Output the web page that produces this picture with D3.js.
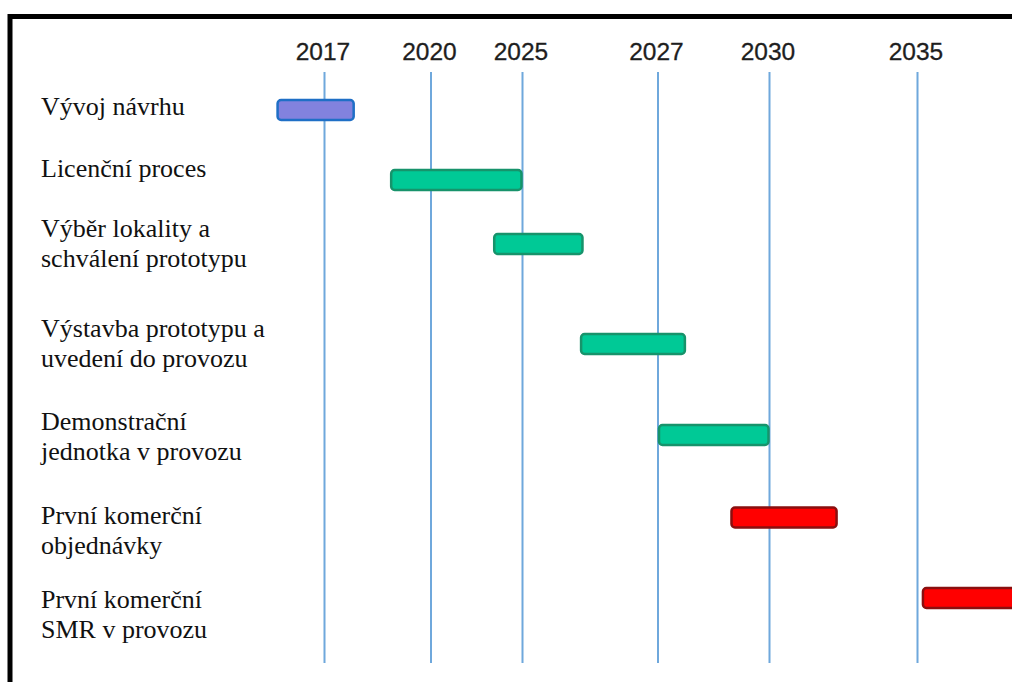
<!DOCTYPE html>
<html>
<head>
<meta charset="utf-8">
<script src="https://cdn.jsdelivr.net/npm/d3@7"></script>
<style>
  html, body { margin: 0; padding: 0; background: #fff; }
  svg { display: block; }
</style>
</head>
<body>
<svg id="chart" width="1012" height="682"></svg>
<script>
// tick years along the top (uneven spacing, as in the original)
const tickYears = [2017, 2020, 2025, 2027, 2030, 2035];

// activity names, one entry per line of the label
const tasks = ['design', 'licence', 'site', 'build', 'demo', 'orders', 'smr'];
const taskLabels = [
    ['Vývoj návrhu'],
    ['Licenční proces'],
    ['Výběr lokality a', 'schválení prototypu'],
    ['Výstavba prototypu a', 'uvedení do provozu'],
    ['Demonstrační', 'jednotka v provozu'],
    ['První komerční', 'objednávky'],
    ['První komerční', 'SMR v provozu']
];

// start / end of each bar, in years
const taskStart = [2015.65, 2018.85, 2023.4, 2025.85, 2027.0, 2028.95, 2035.15];
const taskEnd   = [2017.85, 2025.0, 2025.9, 2027.75, 2030.0, 2032.3, 2038.6];
const taskPhase = ['blue', 'green', 'green', 'green', 'green', 'red', 'red'];

const phaseStyle = {
    blue  : { fill : '#8282de', stroke : '#1f6fc6' },
    green : { fill : '#00c996', stroke : '#17936b' },
    red   : { fill : '#ff0000', stroke : '#8a0f0f' }
};

const vis = {

    svg : d3.select('#chart'),

    scales : {

        // piecewise linear: the source chart spaced its years unevenly
        x : d3.scaleLinear()
              .domain(tickYears)
              .range([324.5, 431, 522.5, 658, 769.5, 917.5]),

        barY : d3.scaleOrdinal()
              .domain(tasks)
              .range([110, 180, 244, 344, 435, 517.5, 598]),

        labelY : d3.scaleOrdinal()
              .domain(tasks)
              .range([107, 169, 244, 344, 437, 531, 615])

    },

    frame : {

        draw : function() {

            vis.svg.append('rect')
              .attr('x', 10)
              .attr('y', 16.5)
              .attr('width', 1100)
              .attr('height', 800)
              .attr('fill', 'none')
              .attr('stroke', '#000')
              .attr('stroke-width', 5);

        }

    },

    grid : {

        top : 72,
        bottom : 663,

        draw : function() {

            const x = vis.scales.x;

            vis.svg.append('g')
              .selectAll('line')
              .data(tickYears)
              .join('line')
              .attr('x1', d => x(d))
              .attr('x2', d => x(d))
              .attr('y1', this.top)
              .attr('y2', this.bottom)
              .attr('stroke', '#6fa8dc')
              .attr('stroke-width', 2);

            vis.svg.append('g')
              .selectAll('text')
              .data(tickYears)
              .join('text')
              .attr('x', d => x(d) - 1.5)
              .attr('y', 60)
              .attr('text-anchor', 'middle')
              .attr('font-family', 'Liberation Sans, Arial, sans-serif')
              .attr('font-size', 24.5)
              .attr('fill', '#1e1e1e')
              .attr('stroke', '#1e1e1e')
              .attr('stroke-width', 0.3)
              .text(d => d);

        }

    },

    bars : {

        height : 20,

        draw : function() {

            const x = vis.scales.x;
            const y = vis.scales.barY;
            const h = this.height;

            vis.svg.append('g')
              .selectAll('rect')
              .data(tasks)
              .join('rect')
              .attr('x', (d, i) => x(taskStart[i]) + 1)
              .attr('y', d => y(d) - h / 2)
              .attr('width', (d, i) => x(taskEnd[i]) - x(taskStart[i]) - 2)
              .attr('height', h)
              .attr('rx', 3.5)
              .attr('fill', (d, i) => phaseStyle[taskPhase[i]].fill)
              .attr('stroke', (d, i) => phaseStyle[taskPhase[i]].stroke)
              .attr('stroke-width', 2.5);

        }

    },

    labels : {

        left : 41,
        lineGap : 30,

        draw : function() {

            const y = vis.scales.labelY;
            const gap = this.lineGap;

            const txt = vis.svg.append('g')
              .selectAll('text')
              .data(tasks)
              .join('text')
              .attr('x', this.left)
              .attr('y', (d, i) => y(d) - (taskLabels[i].length - 1) * gap / 2 + 8)
              .attr('font-family', '"Liberation Serif", "Times New Roman", serif')
              .attr('font-size', 26)
              .attr('fill', '#111');

            txt.selectAll('tspan')
              .data((d, i) => taskLabels[i])
              .join('tspan')
              .attr('x', this.left)
              .attr('dy', (d, j) => j === 0 ? 0 : gap)
              .text(d => d);

        }

    },

    ctrl : {

        init : function() {

            vis.frame.draw();
            vis.grid.draw();
            vis.bars.draw();
            vis.labels.draw();

        }

    }

};

vis.ctrl.init();
</script>
</body>
</html>
